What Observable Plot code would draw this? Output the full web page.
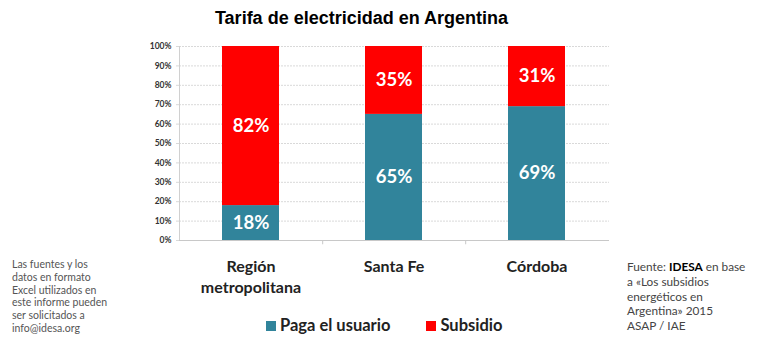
<!DOCTYPE html>
<html><head><meta charset="utf-8">
<script src="https://cdn.jsdelivr.net/npm/d3@7"></script>
<script src="https://cdn.jsdelivr.net/npm/@observablehq/plot@0.6"></script>
<style>
body{margin:0;background:#fff;}
#wrap{position:relative;width:768px;height:352px;background:#fff;font-family:Lato,"Open Sans",sans-serif;}
#wrap svg{position:absolute;left:0;top:0;}
.title{position:absolute;left:0;width:723px;top:8px;text-align:center;font:bold 18px "Liberation Sans",Arial,sans-serif;color:#000;}
.note{position:absolute;left:12px;top:258px;font-size:10.5px;line-height:12.8px;color:#555;}
.src{position:absolute;left:627px;top:260px;font-size:11.8px;line-height:14.8px;color:#444;}
.legend{position:absolute;top:315px;left:266px;font-size:16.5px;font-weight:bold;color:#222;display:flex;gap:0;}
.legend span.sw{display:inline-block;width:10px;height:10px;margin-right:4px;vertical-align:0px;}
.legend .item{margin-right:36px;}
</style></head>
<body><div id="wrap">
<div class="title">Tarifa de electricidad en Argentina</div>
<div class="note">Las fuentes y los<br>datos en formato<br>Excel utilizados en<br>este informe pueden<br>ser solicitados a<br>info@idesa.org</div>
<div class="src">Fuente: <b style="color:#000">IDESA</b> en base<br>a «Los subsidios<br>energéticos en<br>Argentina» 2015<br>ASAP / IAE</div>
<div class="legend" id="legend"></div>
</div>
<script>
const categories = ["Región\nmetropolitana", "Santa Fe", "Córdoba"];
const series = ["Paga el usuario", "Subsidio"];
const pagaValues = [18, 65, 69];
const subsidioValues = [82, 35, 31];
const colors = ["#31849B", "#FF0000"];
const yTicks = [0,10,20,30,40,50,60,70,80,90,100];

const data = [];
categories.forEach((c, i) => {
  data.push({cat: c, series: series[0], value: pagaValues[i] / 100});
  data.push({cat: c, series: series[1], value: subsidioValues[i] / 100});
});
const order = series;

const plot = Plot.plot({
  width: 768, height: 352,
  marginLeft: 179, marginRight: 159, marginTop: 46, marginBottom: 112,
  style: {fontFamily: "Lato, 'Open Sans', sans-serif", background: "transparent", overflow: "visible"},
  x: {domain: categories, paddingInner: 0.6, paddingOuter: 0.3, label: null},
  y: {domain: [0, 1], label: null},
  color: {domain: series, range: colors},
  marks: [
    Plot.ruleY(yTicks.map(d => d / 100), {stroke: "#d9d9d9", strokeWidth: 1, strokeDasharray: "2,1"}),
    Plot.axisY(yTicks.map(d => d / 100), {tickFormat: d => Math.round(d * 100) + "%", tickSize: 3, tickPadding: 5, stroke: "#d9d9d9", fontSize: 8.5, fontWeight: "bold", fill: "#333", label: null}),
    Plot.frame({anchor: "left", stroke: "#d0d0d0"}),
    Plot.ruleY([0], {stroke: "#c8c8c8"}),
    Plot.ruleX(categories.slice(0, -1), {x: d => d, dx: 71.7, y1: 0, y2: -0.022, stroke: "#c8c8c8"}),
    Plot.barY(data, Plot.stackY({order}, {x: "cat", y: "value", fill: "series"})),
    Plot.text(data, Plot.stackY({order}, {x: "cat", y: "value", z: "series", text: d => Math.round(d.value * 100) + "%", fill: "white", fontSize: 18.5, fontWeight: "bold"})),
    Plot.axisX({tickSize: 0, tickPadding: 17, fontSize: 16, fontWeight: "bold", fill: "#222", lineHeight: 1.3, label: null})
  ]
});
document.getElementById("wrap").prepend(plot);

const legend = document.getElementById("legend");
series.forEach((s, i) => {
  const it = document.createElement("div");
  it.className = "item";
  it.innerHTML = `<span class="sw" style="background:${colors[i]}"></span>${s}`;
  legend.appendChild(it);
});
</script>
</body></html>
